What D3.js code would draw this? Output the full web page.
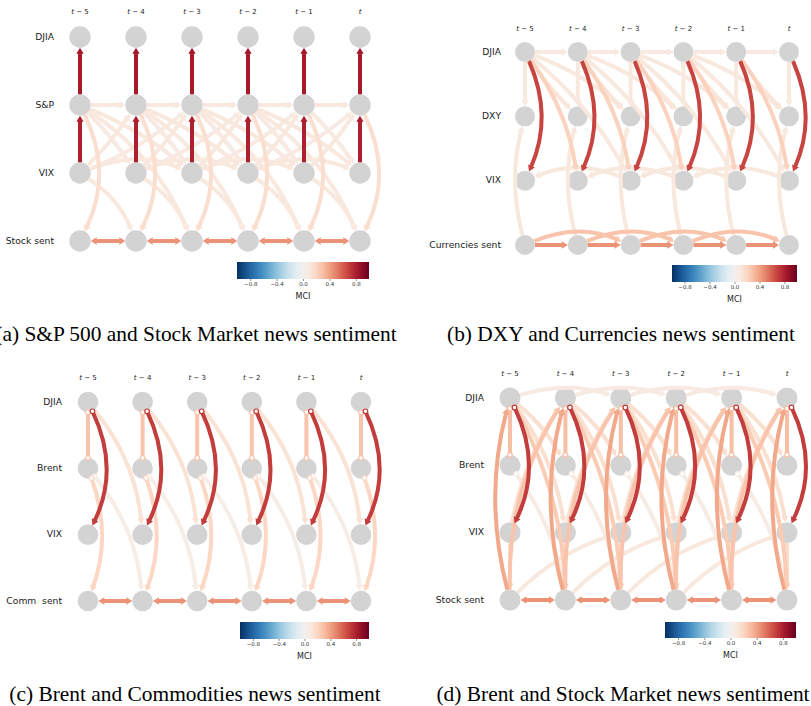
<!DOCTYPE html>
<html>
<head>
<meta charset="utf-8">
<script src="https://cdn.jsdelivr.net/npm/d3@7"></script>
<style>
  body { margin: 0; background: #fff; }
  svg { display: block; }
  text { font-family: "DejaVu Sans", sans-serif; }
</style>
</head>
<body>
<svg id="fig" width="811" height="706"></svg>
<script>
// time slices shown in every panel
var times = ['t-5', 't-4', 't-3', 't-2', 't-1', 't'];
var timeLags = [5, 4, 3, 2, 1, 0];

// variables of each panel (top to bottom)
var varsA = ['DJIA', 'S&P', 'VIX', 'Stock sent'];
var varsB = ['DJIA', 'DXY', 'VIX', 'Currencies sent'];
var varsC = ['DJIA', 'Brent', 'VIX', 'Comm  sent'];
var varsD = ['DJIA', 'Brent', 'VIX', 'Stock sent'];

// links: [source, target, lag, MCI value, link type]
var linksA = [
  ['S&P', 'DJIA', 0, 0.82, '->'],
  ['VIX', 'S&P', 0, 0.80, '->'],
  ['Stock sent', 'Stock sent', 1, 0.45, '<->'],
  ['S&P', 'S&P', 1, 0.10, '->'],
  ['VIX', 'S&P', 1, 0.10, '->'],
  ['VIX', 'S&P', 2, 0.08, '->'],
  ['S&P', 'VIX', 1, 0.08, '->'],
  ['S&P', 'VIX', 2, 0.10, '->'],
  ['S&P', 'Stock sent', 0, 0.16, '->'],
  ['S&P', 'Stock sent', 2, 0.10, '->'],
  ['VIX', 'Stock sent', 1, 0.10, '->'],
  ['VIX', 'VIX', 2, 0.10, '->']
];
var linksB = [
  ['DJIA', 'VIX', 0, 0.68, '->'],
  ['DJIA', 'DXY', 0, 0.10, '->'],
  ['DJIA', 'DJIA', 1, 0.08, '->'],
  ['Currencies sent', 'Currencies sent', 1, 0.45, '->'],
  ['Currencies sent', 'Currencies sent', 2, 0.28, '->'],
  ['Currencies sent', 'DXY', 0, 0.10, '->'],
  ['DJIA', 'DXY', 1, 0.12, '->'],
  ['DJIA', 'VIX', 1, 0.22, '->'],
  ['DJIA', 'DXY', 2, 0.10, '->'],
  ['DJIA', 'VIX', 2, 0.10, '->'],
  ['VIX', 'VIX', 2, 0.10, '<-']
];
var linksC = [
  ['DJIA', 'Brent', 0, 0.28, 'o-o'],
  ['DJIA', 'VIX', 0, 0.70, 'o->'],
  ['Brent', 'Comm  sent', 0, 0.20, 'o->'],
  ['Brent', 'Comm  sent', 1, 0.05, 'o->'],
  ['DJIA', 'VIX', 1, 0.14, '->'],
  ['Comm  sent', 'Comm  sent', 1, 0.45, '<->']
];
var linksD = [
  ['DJIA', 'Brent', 0, 0.30, 'o-o'],
  ['DJIA', 'VIX', 0, 0.70, 'o->'],
  ['Stock sent', 'DJIA', 0, 0.38, '->'],
  ['Stock sent', 'DJIA', 1, 0.28, '->'],
  ['DJIA', 'Stock sent', 1, 0.25, '->'],
  ['VIX', 'Stock sent', 0, 0.18, '->'],
  ['DJIA', 'Brent', 1, 0.15, '->'],
  ['DJIA', 'VIX', 1, 0.15, '->'],
  ['Brent', 'Stock sent', 1, 0.06, 'o->'],
  ['Stock sent', 'VIX', 2, 0.10, '->'],
  ['VIX', 'DJIA', 1, 0.15, '->'],
  ['DJIA', 'DJIA', 2, 0.08, '->'],
  ['Stock sent', 'Stock sent', 1, 0.45, '<->']
];

var cbTicks = [-0.8, -0.4, 0.0, 0.4, 0.8];
var captions = [
  '(a) S&P 500 and Stock Market news sentiment',
  '(b) DXY and Currencies news sentiment',
  '(c) Brent and Commodities news sentiment',
  '(d) Brent and Stock Market news sentiment'
];

// curvature of each link (drawing style, parallel to the link lists)
var bendsA = [0, 0, 0, 0, 0.05, 0.08, -0.05, -0.08, -0.24, -0.15, -0.15, -0.2];
var bendsB = [-0.22, 0, 0, 0, -0.21, -0.13, 0.05, -0.12, -0.1, -0.1, -0.2];
var bendsC = [0, -0.24, -0.18, -0.15, -0.15, 0];
var bendsD = [0, -0.24, -0.13, -0.15, -0.12, 0, -0.1, -0.12, -0.12, -0.12, -0.1, -0.15, 0];

var panels = [
  {vars: varsA, links: linksA, bends: bendsA, x0: 80, x1: 360, y0: 37, y1: 241, r: 10.7, labelX: 54, timeY: 12, cb: [237, 262, 132, 17], capX: 196, capY: 341},
  {vars: varsB, links: linksB, bends: bendsB, x0: 525, x1: 789, y0: 52, y1: 245, r: 10, labelX: 501, timeY: 29, cb: [672, 265, 125, 17], capX: 621, capY: 341},
  {vars: varsC, links: linksC, bends: bendsC, x0: 88, x1: 361, y0: 402, y1: 601, r: 10.3, labelX: 62, timeY: 378, cb: [240, 622, 129, 17], capX: 195, capY: 701},
  {vars: varsD, links: linksD, bends: bendsD, x0: 510, x1: 787, y0: 398, y1: 600, r: 10.5, labelX: 484, timeY: 374, cb: [665, 622, 131, 16], capX: 623, capY: 701}
];

var svg = d3.select('#fig');
var mci = d3.scaleLinear().domain([-1, 1]).range([1, 0]);
var colour = function (v) { return d3.interpolateRdBu(mci(v)); };

// one gradient for all colour bars
var grad = svg.append('defs').append('linearGradient').attr('id', 'rdbu_r');
d3.range(0, 1.0001, 0.05).forEach(function (t) {
  grad.append('stop').attr('offset', t).attr('stop-color', colour(-1 + 2 * t));
});

function unit(p, q) {
  var dx = q[0] - p[0], dy = q[1] - p[1];
  var l = Math.hypot(dx, dy) || 1;
  return [dx / l, dy / l];
}

function drawLink(g, a, b, bend, r, val, kind) {
  var dx = b[0] - a[0], dy = b[1] - a[1];
  var c = [(a[0] + b[0]) / 2 - bend * dy, (a[1] + b[1]) / 2 + bend * dx];
  var ua = unit(a, c), ub = unit(b, c);
  var s = [a[0] + r * ua[0], a[1] + r * ua[1]];
  var e = [b[0] + r * ub[0], b[1] + r * ub[1]];
  var col = colour(val);
  var tail = kind[0], head = kind[kind.length - 1];
  var hl = 6, hw = 3.7;
  var ls = s.slice(), le = e.slice();
  var heads = [];
  if (head === '>') {
    var d1 = unit(c, e);
    le = [e[0] - (hl - 1) * d1[0], e[1] - (hl - 1) * d1[1]];
    heads.push([e, d1]);
  }
  if (tail === '<') {
    var d0 = unit(c, s);
    ls = [s[0] - (hl - 1) * d0[0], s[1] - (hl - 1) * d0[1]];
    heads.push([s, d0]);
  }
  var p = d3.path();
  p.moveTo(ls[0], ls[1]);
  p.quadraticCurveTo(c[0], c[1], le[0], le[1]);
  g.append('path').attr('d', p.toString())
    .attr('fill', 'none').attr('stroke', col).attr('stroke-width', 4);
  heads.forEach(function (h) {
    var tip = h[0], d = h[1];
    var bx = tip[0] - hl * d[0], by = tip[1] - hl * d[1];
    var pts = [[tip[0], tip[1]], [bx - hw * d[1], by + hw * d[0]], [bx + hw * d[1], by - hw * d[0]]];
    g.append('polygon').attr('points', pts.map(function (q) { return q.join(','); }).join(' '))
      .attr('fill', col);
  });
  if (tail === 'o') {
    g.append('circle').attr('cx', s[0]).attr('cy', s[1]).attr('r', 2.3)
      .attr('fill', '#fff').attr('stroke', col).attr('stroke-width', 1.2);
  }
  if (head === 'o') {
    g.append('circle').attr('cx', e[0]).attr('cy', e[1]).attr('r', 2.3)
      .attr('fill', '#fff').attr('stroke', col).attr('stroke-width', 1.2);
  }
}

panels.forEach(function (pn, k) {
  var g = svg.append('g');
  var x = d3.scalePoint().domain(times).range([pn.x0, pn.x1]);
  var y = d3.scalePoint().domain(pn.vars).range([pn.y0, pn.y1]);

  // time labels
  g.selectAll('text.time').data(times).join('text')
    .attr('class', 'time')
    .attr('x', function (d) { return x(d); })
    .attr('y', pn.timeY)
    .attr('text-anchor', 'middle').attr('dominant-baseline', 'middle')
    .attr('font-size', 7).attr('fill', '#222')
    .each(function (d, i) {
      var t = d3.select(this);
      t.append('tspan').attr('font-style', 'italic').text('t');
      if (timeLags[i] > 0) t.append('tspan').text(' \u2212 ' + timeLags[i]);
    });

  // variable labels
  g.selectAll('text.var').data(pn.vars).join('text')
    .attr('class', 'var')
    .attr('x', pn.labelX)
    .attr('y', function (d) { return y(d); })
    .attr('text-anchor', 'end').attr('dominant-baseline', 'middle')
    .attr('font-size', 9.2).attr('fill', '#222')
    .style('white-space', 'pre')
    .text(function (d) { return d; });

  // nodes
  var cells = [];
  pn.vars.forEach(function (v) { times.forEach(function (t) { cells.push([v, t]); }); });
  g.selectAll('circle.node').data(cells).join('circle')
    .attr('class', 'node')
    .attr('cx', function (d) { return x(d[1]); })
    .attr('cy', function (d) { return y(d[0]); })
    .attr('r', pn.r)
    .attr('fill', '#d3d3d3');

  // links, weakest first
  var order = d3.range(pn.links.length).sort(function (i, j) { return pn.links[i][3] - pn.links[j][3]; });
  var lg = g.append('g');
  order.forEach(function (i) {
    var L = pn.links[i];
    for (var c = L[2]; c < times.length; c++) {
      var a = [x(times[c - L[2]]), y(L[0])];
      var b = [x(times[c]), y(L[1])];
      drawLink(lg, a, b, pn.bends[i], pn.r, L[3], L[4]);
    }
  });

  // colour bar
  var cb = pn.cb;
  var cx = d3.scaleLinear().domain([-1, 1]).range([cb[0], cb[0] + cb[2]]);
  g.append('rect').attr('x', cb[0]).attr('y', cb[1]).attr('width', cb[2]).attr('height', cb[3])
    .attr('fill', 'url(#rdbu_r)');
  var ax = g.append('g').attr('transform', 'translate(0,' + (cb[1] + cb[3]) + ')')
    .call(d3.axisBottom(cx).tickValues(cbTicks).tickSize(2).tickPadding(1.5)
      .tickFormat(function (d) { return d.toFixed(1).replace('-', '\u2212'); }));
  ax.select('.domain').remove();
  ax.selectAll('line').attr('stroke', '#444').attr('stroke-width', 0.6);
  ax.selectAll('text').attr('font-size', 5.5).attr('fill', '#333').attr('font-family', 'DejaVu Sans');
  g.append('text').attr('x', cb[0] + cb[2] / 2).attr('y', cb[1] + cb[3] + 20)
    .attr('text-anchor', 'middle').attr('font-size', 8).attr('fill', '#222').text('MCI');

  // caption
  svg.append('text').attr('x', pn.capX).attr('y', pn.capY)
    .attr('text-anchor', 'middle')
    .style('font-family', '"Liberation Serif", "Times New Roman", serif')
    .attr('font-size', 21.4).attr('fill', '#000')
    .text(captions[k]);
});
</script>
</body>
</html>
